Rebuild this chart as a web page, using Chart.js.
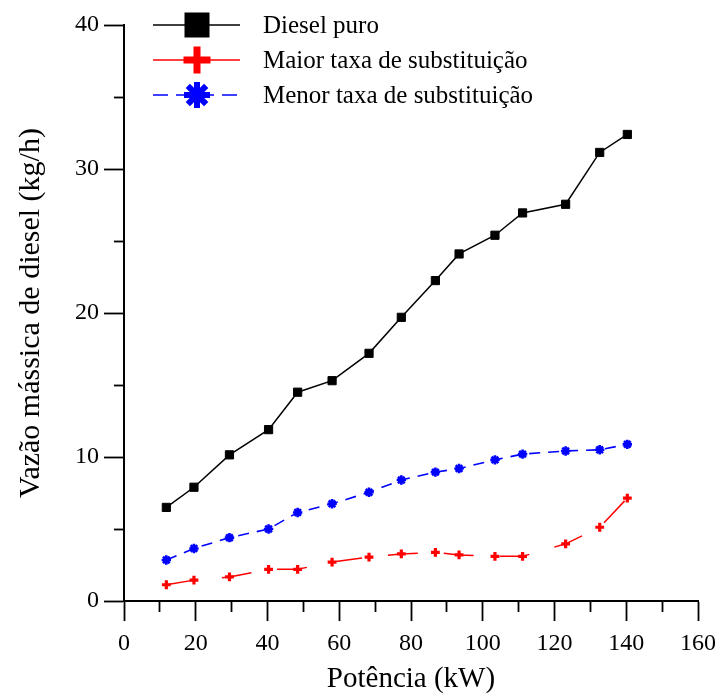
<!DOCTYPE html>
<html lang="pt">
<head>
<meta charset="utf-8">
<title>Vazão mássica de diesel x Potência</title>
<script src="https://cdn.jsdelivr.net/npm/chart.js@4.4.1/dist/chart.umd.min.js"></script>
<style>
  html, body { margin: 0; padding: 0; background: #ffffff; }
  canvas { display: block; }
</style>
</head>
<body>
<canvas id="grafico" width="724" height="697"></canvas>
<script>
// Potência (kW) de cada ensaio
const potencia = [11.8, 19.5, 29.4, 40.3, 48.4, 58.0, 68.3, 77.3, 86.8, 93.4, 103.4, 111.1, 123.1, 132.6, 140.3];

// Vazão mássica de diesel (kg/h)
const dieselPuro = [6.5, 7.9, 10.15, 11.9, 14.5, 15.3, 17.2, 19.7, 22.25, 24.1, 25.4, 26.95, 27.55, 31.15, 32.4];
const maiorTaxa  = [1.13, 1.45, 1.67, 2.2, 2.2, 2.7, 3.05, 3.27, 3.38, 3.2, 3.1, 3.1, 3.97, 5.12, 7.15];
const menorTaxa  = [2.85, 3.65, 4.4, 5.0, 6.15, 6.75, 7.55, 8.4, 8.95, 9.2, 9.8, 10.2, 10.42, 10.5, 10.88];

const nomesSeries = ['Diesel puro', 'Maior taxa de substituição', 'Menor taxa de substituição'];

// Ticks dos eixos (principais rotulados, secundários sem rótulo)
const xTicks = [0, 10, 20, 30, 40, 50, 60, 70, 80, 90, 100, 110, 120, 130, 140, 150, 160];
const yTicks = [0, 5, 10, 15, 20, 25, 30, 35, 40];
const xPasso = 20;
const yPasso = 10;

const pares = ys => potencia.map((x, i) => ({ x: x, y: ys[i] }));

const FONTE = '"Liberation Serif", "Times New Roman", serif';
Chart.defaults.font.family = FONTE;
Chart.defaults.color = '#000000';

// Legenda com linha e símbolo de cada série
const legendaSeries = {
  id: 'legendaSeries',
  afterDraw(chart) {
    const ctx = chart.ctx;
    const x0 = 153, x1 = 240, xm = 197, xt = 263, y0 = 25, dy = 35;
    ctx.save();
    chart.data.datasets.forEach((ds, i) => {
      const y = y0 + i * dy;
      ctx.strokeStyle = ds.borderColor;
      ctx.lineWidth = 1.5;
      ctx.setLineDash(i === 2 ? [15, 8] : []);
      ctx.beginPath();
      ctx.moveTo(x0, y);
      ctx.lineTo(x1, y);
      ctx.stroke();
      ctx.setLineDash([]);
      ctx.fillStyle = ds.borderColor;
      ctx.strokeStyle = ds.borderColor;
      if (i === 0) {
        ctx.fillRect(xm - 12.5, y - 12.5, 25, 25);
      } else if (i === 1) {
        ctx.fillRect(xm - 13.5, y - 3.5, 27, 7);
        ctx.fillRect(xm - 3.5, y - 13.5, 7, 27);
      } else {
        ctx.lineWidth = 6;
        ctx.beginPath();
        for (let k = 0; k < 4; k++) {
          const a = k * Math.PI / 4;
          ctx.moveTo(xm - Math.cos(a) * 13, y - Math.sin(a) * 13);
          ctx.lineTo(xm + Math.cos(a) * 13, y + Math.sin(a) * 13);
        }
        ctx.stroke();
      }
      ctx.fillStyle = '#000000';
      ctx.font = '25px ' + FONTE;
      ctx.textAlign = 'left';
      ctx.textBaseline = 'middle';
      ctx.fillText(ds.label, xt, y + 1);
    });
    ctx.restore();
  }
};

new Chart(document.getElementById('grafico'), {
  type: 'line',
  data: {
    datasets: [
      {
        label: nomesSeries[0],
        data: pares(dieselPuro),
        borderColor: '#000000',
        backgroundColor: '#000000',
        borderWidth: 1.5,
        pointStyle: 'rect',
        pointRadius: 5.8,
        pointBorderWidth: 1,
        pointBackgroundColor: '#000000',
        pointBorderColor: '#000000'
      },
      {
        label: nomesSeries[1],
        data: pares(maiorTaxa),
        borderColor: '#ff0000',
        backgroundColor: '#ff0000',
        borderWidth: 1.5,
        borderDash: [30, 26],
        pointStyle: 'cross',
        pointRadius: 4.4,
        pointBorderWidth: 3.2,
        pointBackgroundColor: '#ff0000',
        pointBorderColor: '#ff0000'
      },
      {
        label: nomesSeries[2],
        data: pares(menorTaxa),
        borderColor: '#0000ff',
        backgroundColor: '#0000ff',
        borderWidth: 1.6,
        borderDash: [11, 8],
        pointStyle: 'star',
        pointRadius: 4.7,
        pointBorderWidth: 2.6,
        pointBackgroundColor: '#0000ff',
        pointBorderColor: '#0000ff'
      }
    ]
  },
  options: {
    responsive: false,
    animation: false,
    events: [],
    devicePixelRatio: 1,
    elements: { line: { tension: 0, fill: false } },
    layout: { padding: { left: 0, right: 24.5, top: 25, bottom: 0 } },
    plugins: {
      legend: { display: false },
      tooltip: { enabled: false },
      title: { display: false }
    },
    scales: {
      x: {
        type: 'linear',
        position: 'bottom',
        min: 0,
        max: 160,
        afterBuildTicks: s => { s.ticks = xTicks.map(v => ({ value: v })); },
        afterFit: s => { s.height = 96; },
        ticks: {
          autoSkip: false,
          maxRotation: 0,
          padding: 8,
          color: '#000000',
          font: { size: 24 },
          callback: v => (v % xPasso === 0 ? String(v) : '')
        },
        grid: {
          drawOnChartArea: false,
          drawTicks: true,
          tickLength: 20,
          tickWidth: 1.8,
          tickColor: '#000000',
          tickBorderDash: c => (c.tick && c.tick.value % xPasso !== 0 ? [10, 40] : [])
        },
        border: { display: true, color: '#000000', width: 2 },
        title: {
          display: true,
          text: 'Potência (kW)',
          color: '#000000',
          font: { size: 29 },
          padding: { top: 0, bottom: 0 }
        }
      },
      y: {
        type: 'linear',
        position: 'left',
        min: 0,
        max: 40,
        afterBuildTicks: s => { s.ticks = yTicks.map(v => ({ value: v })); },
        afterFit: s => { s.width = 124; },
        ticks: {
          autoSkip: false,
          padding: 5,
          color: '#000000',
          font: { size: 24 },
          callback: v => (v % yPasso === 0 ? String(v) : '')
        },
        grid: {
          drawOnChartArea: false,
          drawTicks: true,
          tickLength: 20,
          tickWidth: 1.8,
          tickColor: '#000000',
          tickBorderDash: c => (c.tick && c.tick.value % yPasso !== 0 ? [10, 10] : []),
          tickBorderDashOffset: c => (c.tick && c.tick.value % yPasso !== 0 ? 10 : 0)
        },
        border: { display: true, color: '#000000', width: 2 },
        title: {
          display: true,
          text: 'Vazão mássica de diesel (kg/h)',
          color: '#000000',
          font: { size: 30 },
          padding: { top: 13, bottom: 0 }
        }
      }
    }
  },
  plugins: [legendaSeries]
});
</script>
</body>
</html>
